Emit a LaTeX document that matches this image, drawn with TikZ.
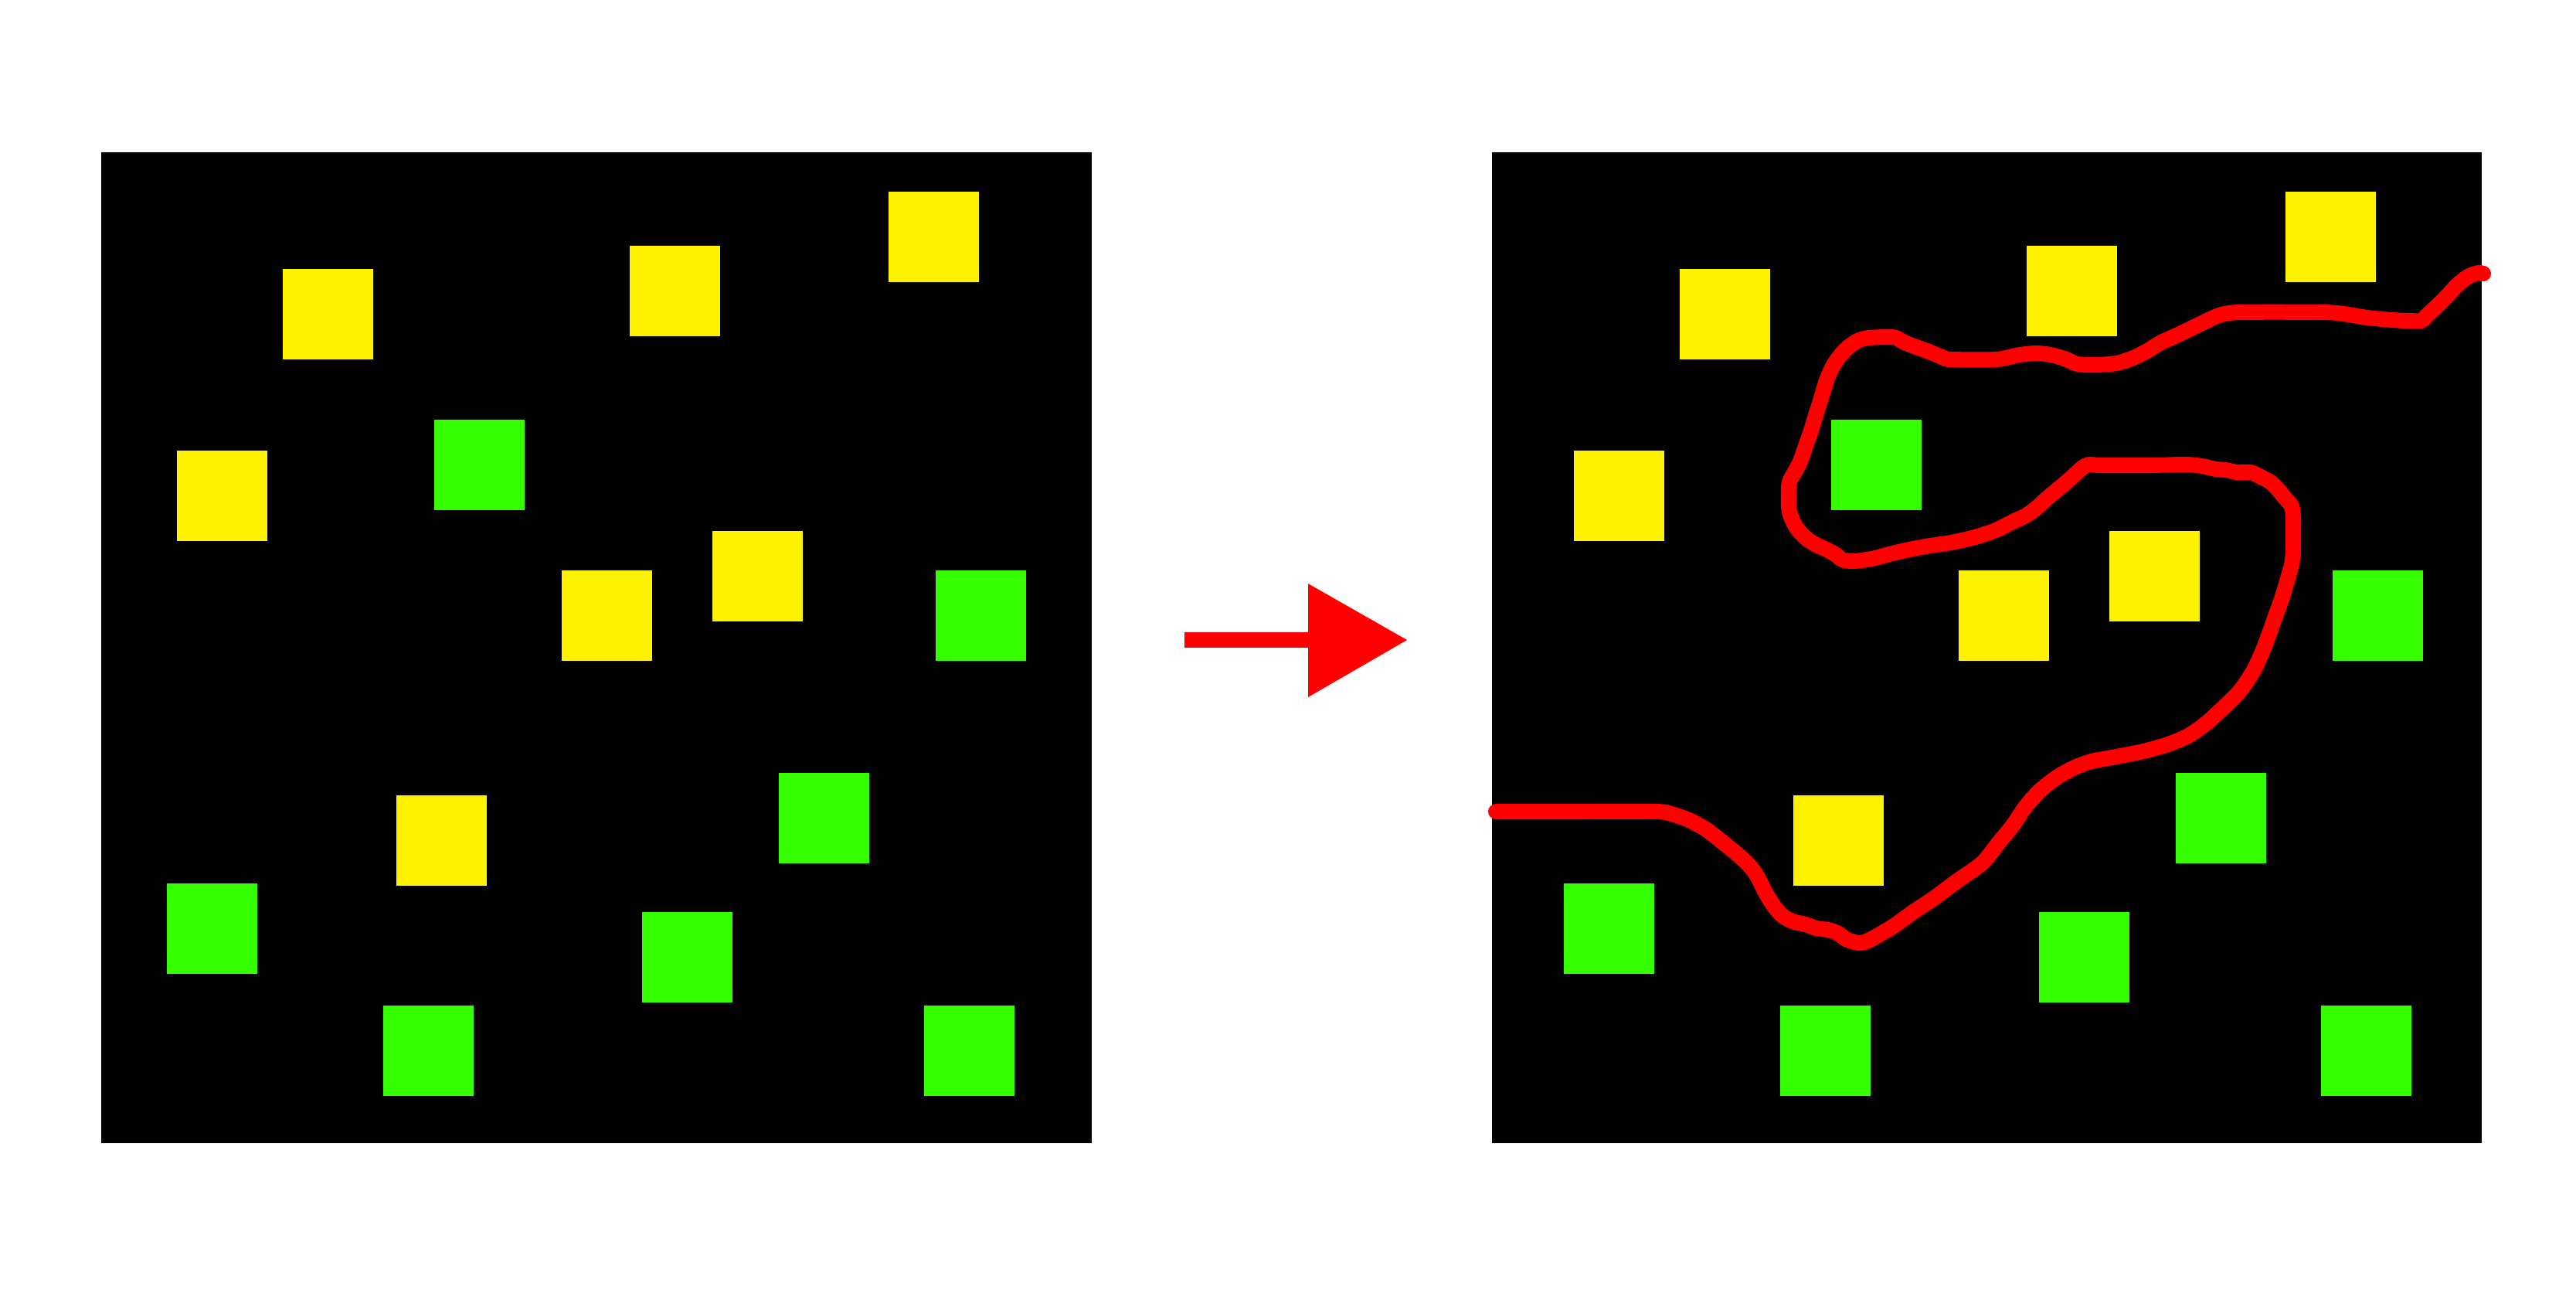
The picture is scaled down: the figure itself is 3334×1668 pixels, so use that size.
\documentclass[tikz,border=0pt]{standalone}
\usepackage{tikz}
\definecolor{sqyellow}{RGB}{255,242,0}
\definecolor{sqgreen}{RGB}{51,255,0}
\definecolor{pathred}{RGB}{255,0,0}
\begin{document}
\begin{tikzpicture}[x=0.01cm,y=-0.01cm,
  board/.style={fill=black},
  ysq/.style={fill=sqyellow},
  gsq/.style={fill=sqgreen},
  redpath/.style={draw=pathred,line width=20*0.01cm,line cap=round,line join=round}]
\useasboundingbox (0,0) rectangle (3334,1668);
\fill[white] (0,0) rectangle (3334,1668);
% boards
\fill[board] (131,197) rectangle (1413,1479);
\fill[board] (1931,197) rectangle (3212,1479);
% squares on both boards
\foreach \dx in {0,1808}{
  \foreach \x/\y in {366/348,815/318,1150/248,229/583,727/738,922/687,513/1029}{
    \fill[ysq] (\x+\dx,\y) rectangle ++(117,117);
  }
  \foreach \x/\y in {562/543,1211/738,1008/1000,216/1143,831/1180,496/1301,1196/1301}{
    \fill[gsq] (\x+\dx,\y) rectangle ++(117,117);
  }
}
% arrow
\fill[pathred] (1533,818) rectangle (1695,838);
\fill[pathred] (1693,755) -- (1821,828) -- (1693,902) -- cycle;
% red path
\draw[redpath] plot[smooth,tension=0.45] coordinates {
(1936,1050) (2034,1050) (2143,1050) (2163,1053) (2186,1061) (2208,1073) (2230,1090) (2253,1109) (2266,1122) (2275,1135) (2284,1153) (2295,1171) (2306,1184) (2320,1192) (2337,1196) (2351,1201) (2366,1203) (2378,1207) (2391,1216) (2407,1220) (2420,1216) (2436,1207) (2454,1196) (2476,1180) (2503,1162) (2534,1139) (2565,1117) (2587,1090) (2605,1068) (2622,1043) (2640,1023) (2663,1005) (2685,993) (2707,985) (2739,979) (2774,972) (2806,963) (2832,952) (2855,936) (2877,916) (2899,894) (2917,867) (2931,836) (2944,800) (2953,775) (2960,752) (2966,730) (2968,711) (2968,671) (2966,655) (2957,644) (2948,633) (2939,624) (2926,617) (2913,611) (2895,611) (2881,608) (2868,607) (2850,603) (2828,601) (2783,602) (2721,602) (2703,601) (2694,606) (2681,618) (2667,630) (2649,645) (2636,657) (2622,667) (2605,675) (2583,686) (2556,695) (2525,702) (2498,706) (2471,711) (2445,717) (2427,722) (2409,725) (2396,726) (2384,724) (2375,717) (2364,711) (2349,704) (2337,696) (2326,684) (2319,671) (2315,657) (2315,630) (2317,621) (2322,612) (2330,597) (2337,577) (2344,557) (2351,534) (2358,512) (2364,492) (2371,476) (2380,462) (2391,450) (2404,441) (2418,437) (2445,436) (2454,437) (2467,444) (2494,454) (2516,463) (2525,465) (2583,465) (2614,459) (2636,457) (2654,459) (2672,464) (2689,471) (2712,472) (2739,470) (2761,463) (2779,454) (2797,443) (2819,433) (2846,420) (2872,408) (2899,404) (3006,404) (3033,406) (3064,411) (3096,414) (3118,415) (3134,415) (3140,409) (3154,396) (3167,383) (3180,369) (3194,358) (3207,353) (3214,354)};
\end{tikzpicture}
\end{document}
